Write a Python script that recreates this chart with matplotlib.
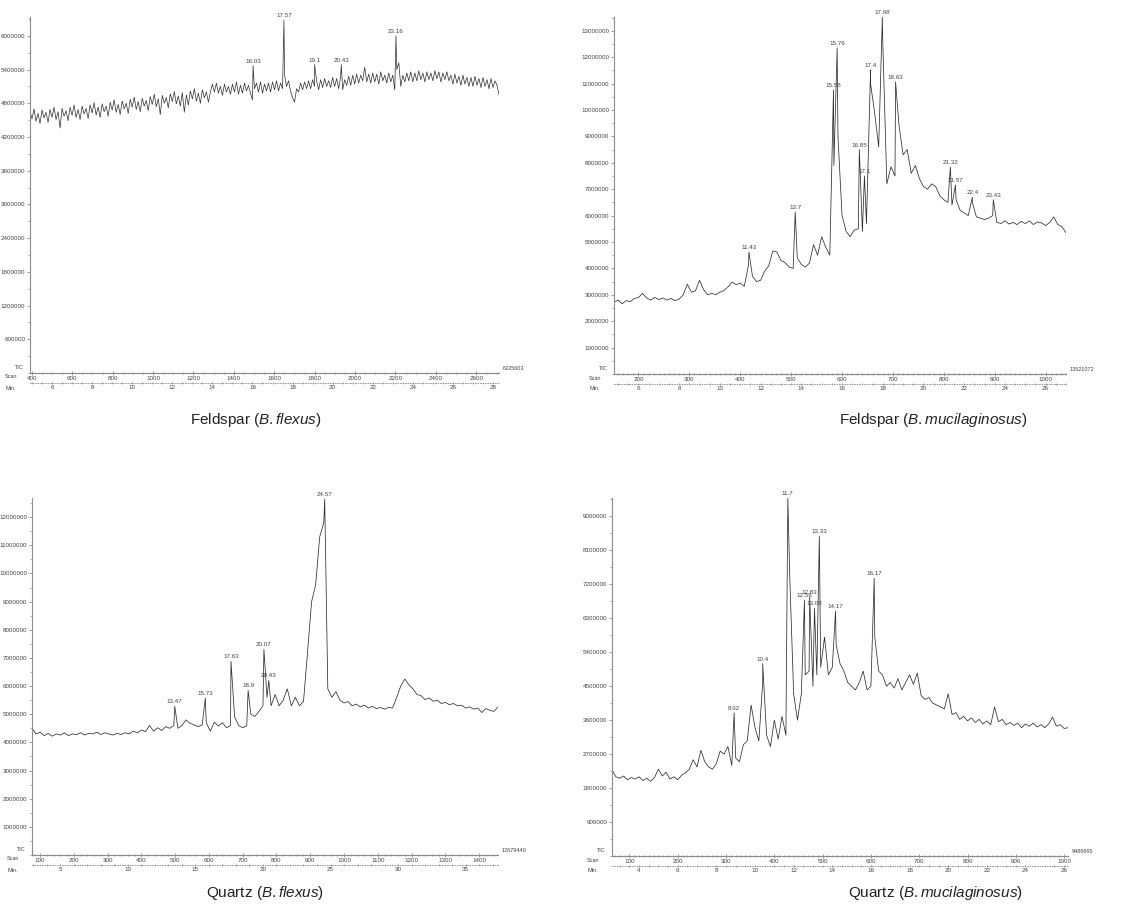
import numpy as np
import matplotlib.pyplot as plt
from matplotlib.ticker import MultipleLocator, FixedLocator, FuncFormatter

plt.rcParams["font.family"] = "Liberation Sans"
plt.rcParams["mathtext.fontset"] = "custom"
plt.rcParams["mathtext.rm"] = "Liberation Sans"
plt.rcParams["mathtext.it"] = "Liberation Sans:italic"

# TIC values in millions, sampled on a regular retention-time grid (min),
# labelled peak apexes kept separately and merged in when plotting.

# Feldspar (B.flexus)
ff_t0, ff_dt = 4.9, 0.1
ff_tic = [
    4.66, 4.52, 4.70, 4.48, 4.62, 4.44, 4.68, 4.54, 4.64, 4.46,
    4.69, 4.55, 4.73, 4.51, 4.65, 4.36, 4.71, 4.57, 4.67, 4.49,
    4.73, 4.59, 4.77, 4.55, 4.69, 4.51, 4.75, 4.61, 4.71, 4.53,
    4.77, 4.63, 4.81, 4.59, 4.73, 4.55, 4.79, 4.65, 4.75, 4.57,
    4.82, 4.68, 4.86, 4.64, 4.78, 4.60, 4.84, 4.70, 4.80, 4.62,
    4.87, 4.73, 4.91, 4.69, 4.83, 4.65, 4.89, 4.75, 4.85, 4.67,
    4.92, 4.78, 4.96, 4.74, 4.88, 4.60, 4.94, 4.80, 4.90, 4.72,
    4.97, 4.83, 5.01, 4.79, 4.93, 4.75, 4.99, 4.64, 4.95, 4.77,
    5.02, 4.88, 5.06, 4.84, 4.98, 4.80, 5.04, 4.90, 5.00, 4.82,
    5.00, 5.14, 5.00, 5.16, 4.98, 5.10, 4.94, 5.14, 5.00, 5.10,
    4.96, 5.14, 5.00, 5.18, 4.96, 5.12, 4.98, 5.16, 5.02, 5.12,
    4.98, 4.86, 5.06, 5.16, 5.00, 5.18, 4.98, 5.14, 5.02, 5.16,
    5.00, 5.18, 5.04, 5.20, 5.02, 5.16, 5.06, 5.30, 5.10, 5.20,
    5.02, 4.90, 4.82, 5.06, 5.00, 5.16, 5.04, 5.18, 5.06, 5.20,
    5.06, 5.22, 5.10, 5.20, 5.04, 5.22, 5.08, 5.24, 5.10, 5.20,
    5.08, 5.26, 5.10, 5.24, 5.06, 5.28, 5.04, 5.22, 5.12, 5.28,
    5.12, 5.30, 5.14, 5.32, 5.16, 5.30, 5.20, 5.44, 5.18, 5.32,
    5.16, 5.34, 5.18, 5.32, 5.14, 5.36, 5.20, 5.30, 5.16, 5.34,
    5.18, 5.30, 5.04, 5.40, 5.52, 5.10, 5.30, 5.18, 5.34, 5.20,
    5.36, 5.18, 5.34, 5.20, 5.38, 5.22, 5.34, 5.18, 5.36, 5.22,
    5.34, 5.20, 5.38, 5.24, 5.36, 5.18, 5.34, 5.22, 5.36, 5.20,
    5.30, 5.14, 5.32, 5.16, 5.28, 5.12, 5.30, 5.14, 5.26, 5.10,
    5.26, 5.10, 5.28, 5.12, 5.24, 5.08, 5.26, 5.10, 5.22, 5.06,
    5.24, 5.08, 5.20, 5.12, 4.95,
]
ff_peak_rt = [16.03, 17.57, 19.1, 20.43, 23.16]
ff_peak_tic = [5.47, 6.28, 5.49, 5.49, 6.00]
ff_scan_cal = (99.2, -95)   # scan = a * min + b
ff_full_scale = "6335603"

# Feldspar (B.mucilaginosus)
fm_t0, fm_dt = 4.8, 0.2
fm_tic = [
    2.72, 2.80, 2.66, 2.78, 2.74, 2.86, 2.90, 3.05, 2.88, 2.80,
    2.90, 2.82, 2.88, 2.80, 2.86, 2.78, 2.84, 3.00, 3.40, 3.10,
    3.15, 3.55, 3.20, 3.00, 3.06, 3.00, 3.10, 3.16, 3.30, 3.48,
    3.38, 3.44, 3.32, 4.10, 3.70, 3.50, 3.55, 3.90, 4.10, 4.66,
    4.62, 4.30, 4.22, 4.05, 4.00, 4.40, 4.15, 4.05, 4.20, 4.90,
    4.50, 5.20, 4.80, 4.50, 7.90, 9.00, 6.00, 5.40, 5.20, 5.45,
    5.50, 5.40, 5.70, 11.00, 9.90, 8.60, 12.60, 7.20, 7.85, 7.50,
    9.40, 8.30, 8.50, 7.60, 7.90, 7.40, 7.10, 7.00, 7.20, 7.10,
    6.75, 6.60, 6.50, 6.40, 6.60, 6.20, 6.10, 6.00, 6.50, 5.95,
    5.90, 5.85, 5.90, 6.00, 5.75, 5.70, 5.80, 5.68, 5.74, 5.66,
    5.78, 5.70, 5.80, 5.66, 5.76, 5.72, 5.62, 5.74, 5.95, 5.66,
    5.58, 5.35,
]
fm_peak_rt = [11.43, 13.7, 15.58, 15.76, 16.85, 17.1, 17.4, 17.98, 18.63,
              21.32, 21.57, 22.4, 23.43]
fm_peak_tic = [4.62, 6.14, 10.76, 12.35, 8.50, 7.50, 11.50, 13.52, 11.06,
               7.84, 7.16, 6.70, 6.60]
fm_scan_cal = (40, -40)
fm_full_scale = "13521072"

# Quartz (B.flexus)
qf_t0, qf_dt = 2.9, 0.3
qf_tic = [
    4.50, 4.30, 4.36, 4.24, 4.32, 4.22, 4.30, 4.26, 4.34, 4.24,
    4.30, 4.28, 4.34, 4.26, 4.32, 4.30, 4.36, 4.28, 4.34, 4.30,
    4.26, 4.32, 4.28, 4.34, 4.30, 4.40, 4.34, 4.44, 4.38, 4.60,
    4.40, 4.52, 4.42, 4.56, 4.50, 4.60, 4.50, 4.60, 4.80, 4.68,
    4.62, 4.56, 4.62, 4.70, 4.40, 4.72, 4.58, 4.70, 4.52, 4.60,
    4.90, 4.60, 4.52, 4.60, 5.00, 4.92, 5.10, 5.30, 5.60, 5.30,
    5.70, 5.30, 5.50, 5.90, 5.30, 5.60, 5.30, 5.45, 7.20, 9.00,
    9.60, 11.30, 11.80, 5.90, 5.60, 5.80, 5.50, 5.40, 5.45, 5.30,
    5.36, 5.26, 5.32, 5.22, 5.28, 5.20, 5.24, 5.18, 5.24, 5.22,
    5.60, 6.00, 6.25, 6.05, 5.90, 5.70, 5.66, 5.52, 5.58, 5.46,
    5.50, 5.38, 5.42, 5.34, 5.38, 5.30, 5.32, 5.22, 5.26, 5.18,
    5.22, 5.06, 5.20, 5.14, 5.10, 5.26,
]
qf_peak_rt = [13.47, 15.73, 17.63, 18.9, 20.07, 20.43, 24.57]
qf_peak_tic = [5.28, 5.57, 6.88, 5.85, 7.30, 6.20, 12.64]
qf_scan_cal = (40, -40)
qf_full_scale = "12679440"

# Quartz (B.mucilaginosus)
qm_t0, qm_dt = 2.6, 0.2
qm_tic = [
    2.28, 2.10, 2.06, 2.12, 2.02, 2.08, 2.04, 2.10, 2.00, 2.06,
    1.98, 2.08, 2.30, 2.12, 2.22, 2.04, 2.10, 2.02, 2.14, 2.20,
    2.30, 2.55, 2.36, 2.80, 2.50, 2.36, 2.30, 2.45, 2.78, 2.70,
    2.90, 2.40, 2.60, 2.50, 2.95, 3.05, 4.00, 3.40, 3.05, 4.60,
    3.20, 2.90, 3.60, 3.10, 3.70, 3.20, 7.40, 4.30, 3.60, 4.30,
    4.80, 4.90, 4.50, 4.80, 5.00, 5.80, 4.80, 5.00, 5.60, 5.10,
    4.90, 4.60, 4.50, 4.40, 4.60, 4.90, 4.40, 4.50, 5.80, 4.90,
    4.80, 4.50, 4.60, 4.45, 4.70, 4.40, 4.60, 4.80, 4.55, 4.85,
    4.25, 4.15, 4.20, 4.05, 4.00, 3.95, 3.90, 4.30, 3.75, 3.80,
    3.62, 3.70, 3.58, 3.66, 3.54, 3.62, 3.50, 3.58, 3.48, 3.95,
    3.56, 3.62, 3.48, 3.54, 3.46, 3.52, 3.40, 3.50, 3.44, 3.52,
    3.42, 3.48, 3.40, 3.50, 3.68, 3.44, 3.48, 3.38, 3.40,
]
qm_peak_rt = [8.92, 10.4, 11.7, 12.56, 12.83, 13.08, 13.33, 14.17, 16.17]
qm_peak_tic = [3.79, 5.10, 9.48, 6.78, 6.86, 6.56, 8.47, 6.49, 7.36]
qm_scan_cal = (40, -40)
qm_full_scale = "9486895"

W, H = 1137, 908
fig = plt.figure(figsize=(W / 100, H / 100), dpi=100)
AXC = "#8c8c8c"
TXC = "#454545"
FS = 4.5


def px_rect(left, right, top, bottom):
    return [left / W, 1 - bottom / H, (right - left) / W, (bottom - top) / H]


def ticks_within(lo, hi, step):
    # only the tick positions that fall inside the visible range
    first = np.ceil(lo / step - 1e-9) * step
    return np.arange(first, hi + 1e-9, step)


def draw_panel(box, t0, dt, tic, peak_rt, peak_tic, scan_cal, full_scale,
               ystep, scan_step, scan_minor, min_step, min_minor,
               caption, cap_xy, lw=0.55):
    ax = fig.add_axes(px_rect(*box))
    t = t0 + dt * np.arange(len(tic))
    rt = np.concatenate([t, peak_rt])
    val = np.concatenate([tic, peak_tic]) * 1e6
    order = np.argsort(rt, kind="stable")
    ax.plot(rt[order], val[order], color="#2e2e2e", lw=lw)
    ax.vlines(t[-1], 0, tic[-1] * 1e6, colors="#9a9a9a",
              linestyles=(0, (1, 1.5)), lw=0.6)
    for r, p in zip(peak_rt, peak_tic):
        ax.annotate(f"{r:g}", (r, p * 1e6), xytext=(0, 2),
                    textcoords="offset pixels", ha="center", va="bottom",
                    fontsize=FS, color=TXC)

    ax.set_xlim(t[0], t[-1])
    ax.set_ylim(0, float(full_scale))
    for s in ("top", "right"):
        ax.spines[s].set_visible(False)
    for s in ("left", "bottom"):
        ax.spines[s].set_color(AXC)
        ax.spines[s].set_linewidth(0.8)

    ax.yaxis.set_major_locator(
        FixedLocator(ticks_within(ystep, float(full_scale), ystep)))
    ax.yaxis.set_minor_locator(MultipleLocator(ystep / 2))
    ax.yaxis.set_major_formatter(FuncFormatter(lambda v, _: f"{v:.0f}"))
    ax.tick_params(axis="y", which="major", length=2.5, width=0.6,
                   color=AXC, labelsize=FS, labelcolor=TXC, pad=1)
    ax.tick_params(axis="y", which="minor", length=1.5, width=0.5, color=AXC)
    ax.tick_params(axis="x", which="both", bottom=False, labelbottom=False)

    a, b = scan_cal
    s_lo, s_hi = a * t[0] + b, a * t[-1] + b
    sec = ax.secondary_xaxis(0, functions=(lambda m: a * m + b,
                                           lambda s: (s - b) / a))
    sec.xaxis.set_major_locator(FixedLocator(ticks_within(s_lo, s_hi, scan_step)))
    sec.xaxis.set_minor_locator(FixedLocator(ticks_within(s_lo, s_hi, scan_minor)))
    sec.xaxis.set_major_formatter(FuncFormatter(lambda v, _: f"{v:.0f}"))
    sec.tick_params(which="major", direction="inout", length=3, width=0.6,
                    color=AXC, labelsize=FS, labelcolor=TXC, pad=0.5)
    sec.tick_params(which="minor", direction="inout", length=2, width=0.5,
                    color=AXC)
    sec.spines["bottom"].set_color(AXC)
    sec.spines["bottom"].set_linewidth(0.8)

    mn = ax.secondary_xaxis(-0.028, functions=(lambda m: m, lambda m: m))
    mn.xaxis.set_major_locator(FixedLocator(ticks_within(t[0], t[-1], min_step)))
    mn.xaxis.set_minor_locator(FixedLocator(ticks_within(t[0], t[-1], min_minor)))
    mn.xaxis.set_major_formatter(FuncFormatter(lambda v, _: f"{v:.0f}"))
    mn.tick_params(which="major", direction="inout", length=2, width=0.6,
                   color=AXC, labelsize=FS, labelcolor=TXC, pad=0.5)
    mn.tick_params(which="minor", direction="inout", length=1.2, width=0.5,
                   color=AXC)
    mn.spines["bottom"].set_color(AXC)
    mn.spines["bottom"].set_linestyle((0, (1, 2)))
    mn.spines["bottom"].set_linewidth(0.6)

    ax.annotate("TIC", xy=(0, 0), xycoords="axes fraction", xytext=(-6, 3),
                textcoords="offset pixels", ha="right", va="bottom",
                fontsize=4, color=TXC)
    ax.annotate("Scan", xy=(0, 0), xycoords="axes fraction",
                xytext=(-25, -4), textcoords="offset pixels", ha="left",
                va="center", fontsize=4, color=TXC)
    ax.annotate("Min.", xy=(0, 0), xycoords="axes fraction",
                xytext=(-25, -15), textcoords="offset pixels", ha="left",
                va="center", fontsize=4, color=TXC)
    ax.annotate(full_scale, xy=(1, 0), xycoords="axes fraction",
                xytext=(4, 2), textcoords="offset pixels", ha="left",
                va="bottom", fontsize=4, color=TXC)

    fig.text(cap_xy[0] / W, 1 - cap_xy[1] / H, caption, ha="center",
             va="center", fontsize=11, color="#222222")
    return ax


draw_panel((30, 499, 17, 373), ff_t0, ff_dt, ff_tic, ff_peak_rt, ff_peak_tic,
           ff_scan_cal, ff_full_scale, 600000, 200, 50, 2, 0.5,
           r"Feldspar $\it{(B.flexus)}$", (256, 420), lw=0.5)
draw_panel((614, 1066, 17, 374), fm_t0, fm_dt, fm_tic, fm_peak_rt, fm_peak_tic,
           fm_scan_cal, fm_full_scale, 1000000, 100, 10, 2, 0.5,
           r"Feldspar $\it{(B.mucilaginosus)}$", (933, 420))
draw_panel((32, 498, 498, 855), qf_t0, qf_dt, qf_tic, qf_peak_rt, qf_peak_tic,
           qf_scan_cal, qf_full_scale, 1000000, 100, 20, 5, 1,
           r"Quartz $\it{(B.flexus)}$", (265, 893))
draw_panel((612, 1068, 498, 856), qm_t0, qm_dt, qm_tic, qm_peak_rt, qm_peak_tic,
           qm_scan_cal, qm_full_scale, 900000, 100, 10, 2, 0.5,
           r"Quartz $\it{(B.mucilaginosus)}$", (935, 893))

fig.savefig("out.png", dpi=100)
